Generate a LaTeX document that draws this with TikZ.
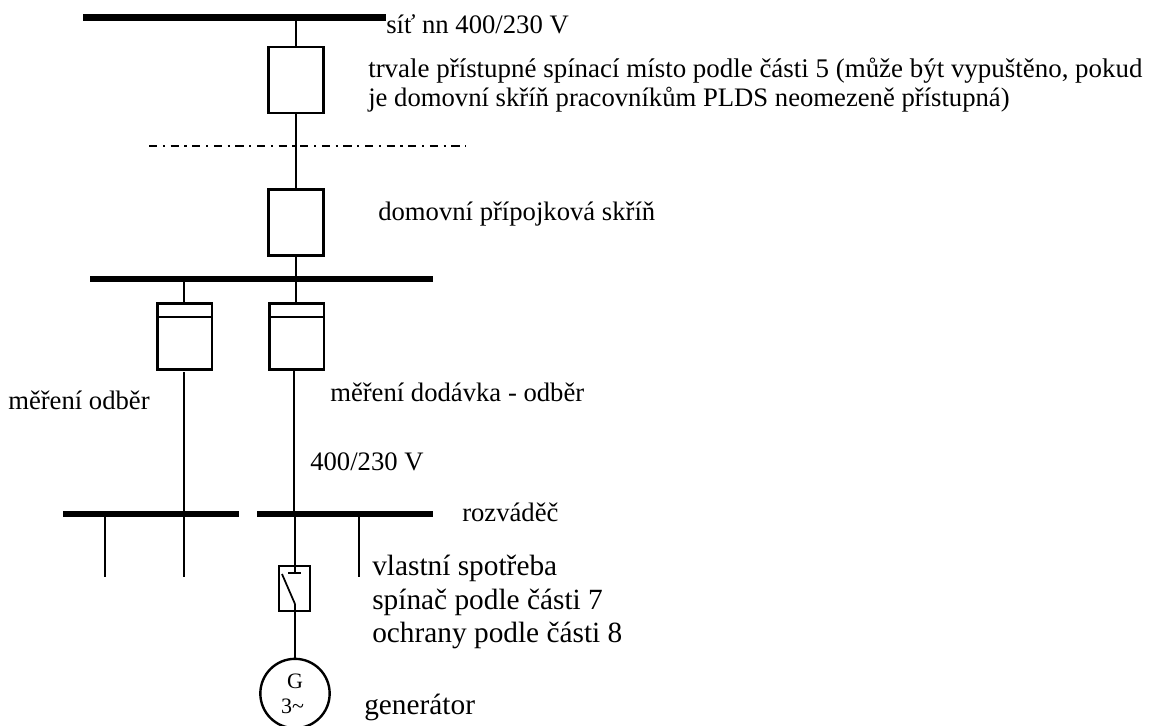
\documentclass[tikz,border=0pt]{standalone}
\usepackage{fontspec}
\setmainfont{Liberation Serif}
\tikzset{
  x=0.75pt,y=-0.75pt,
  wire/.style={line width=1.3pt,black},
  bus/.style={fill=black,draw=none,inner sep=0pt,minimum height=4.3pt},
  cabinet/.style={draw=black,line width=2pt,fill=white,inner sep=0pt,minimum width=41pt,minimum height=49.5pt},
  txt/.style={anchor=base west,inner sep=0pt,font=\fontsize{20pt}{24pt}\selectfont},
  txtb/.style={anchor=base west,inner sep=0pt,font=\fontsize{22pt}{24pt}\selectfont},
  gtxt/.style={anchor=base,inner sep=0pt,font=\fontsize{16.5pt}{18pt}\selectfont},
}
\begin{document}
\begin{tikzpicture}
\useasboundingbox (0,0) rectangle (1149,725);
\fill[white] (0,0) rectangle (1149,725);
% buses
\node[bus,minimum width=227pt,minimum height=4.8pt] (b1) at (234.5,17.5) {};
\node[bus,minimum width=257pt] (b2) at (261.5,279) {};
\node[bus,minimum width=132pt] (b3) at (151,514) {};
\node[bus,minimum width=132pt] (b4) at (345,514) {};
% cabinets
\node[cabinet] (c1) at (296,80) {};
\node[cabinet] (c2) at (296,222.5) {};
\node[cabinet] (m1) at (184.5,336.5) {};
\node[cabinet] (m2) at (296.5,336.5) {};
\draw[line width=1.8pt] (159,317) -- (213,317);
\draw[line width=1.8pt] (268,317) -- (324,317);
% wires
\coordinate (t1) at (296,17);
\coordinate (t2) at (296,279);
\coordinate (t3) at (184,279);
\coordinate (t4) at (184,372);
\coordinate (t5) at (184,577);
\coordinate (t6) at (294,371);
\coordinate (t7) at (294,514);
\coordinate (t8) at (105,514);
\coordinate (t9) at (105,577);
\coordinate (t10) at (359,514);
\coordinate (t11) at (359,577);
\draw[wire] (t1) -- (c1.north);
\draw[wire] (c1.south) -- (c2.north);
\draw[wire] (c2.south) -- (t2);
\draw[wire] (t2) -- (t2 |- m2.north);
\draw[wire] (t3) -- (t3 |- m1.north);
\draw[wire] (t4) -- (t5);
\draw[wire] (t6) -- (t7);
\draw[wire] (t8) -- (t9);
\draw[wire] (t10) -- (t11);
% separator
\coordinate (d1) at (149,146);
\coordinate (d2) at (466,146);
\draw[line width=1.1pt,dash pattern=on 6.2pt off 4.2pt on 1.6pt off 4.2pt] (d1) -- (d2);
% switch
\node[draw=black,line width=1.2pt,inner sep=0pt,minimum width=23pt,minimum height=33.5pt] (sw) at (294.5,588.5) {};
\coordinate (k1) at (295,573);
\coordinate (k2) at (288,573);
\coordinate (k3) at (301,573);
\coordinate (k4) at (282,574);
\coordinate (k5) at (295,604);
\coordinate (k6) at (295,514);
\draw[wire] (k6) -- (k1);
\draw[wire] (k2) -- (k3);
\draw[wire] (k4) -- (k5);
% generator
\node[circle,draw=black,line width=1.8pt,inner sep=0pt,minimum size=52pt] (g) at (295,693.5) {};
\draw[wire] (k5) -- (g.north);
\node[gtxt] (gt) at (295,688) {G};
\node[gtxt] (gn) at (292.5,713) {3\textasciitilde};
% labels
\node[txt] (l1) at (386,33) {síť nn 400/230 V};
\node[txt,font=\fontsize{20.2pt}{24pt}\selectfont] (l2) at (368,77) {trvale přístupné spínací místo podle části 5 (může být vypuštěno, pokud};
\node[txt] (l3) at (368,106.5) {je domovní skříň pracovníkům PLDS neomezeně přístupná)};
\node[txt] (l3b) at (378,220) {domovní přípojková skříň};
\node[txt] (l4) at (8,409) {měření odběr};
\node[txt] (l5) at (330,401) {měření dodávka - odběr};
\node[txt] (l6) at (310,470) {400/230 V};
\node[txt] (l7) at (462,521) {rozváděč};
\node[txtb] (l8) at (372,575) {vlastní spotřeba};
\node[txtb] (l9) at (372,609) {spínač podle části 7};
\node[txtb] (l10) at (372,642) {ochrany podle části 8};
\node[txtb] (l11) at (364,714) {generátor};
\end{tikzpicture}
\end{document}
